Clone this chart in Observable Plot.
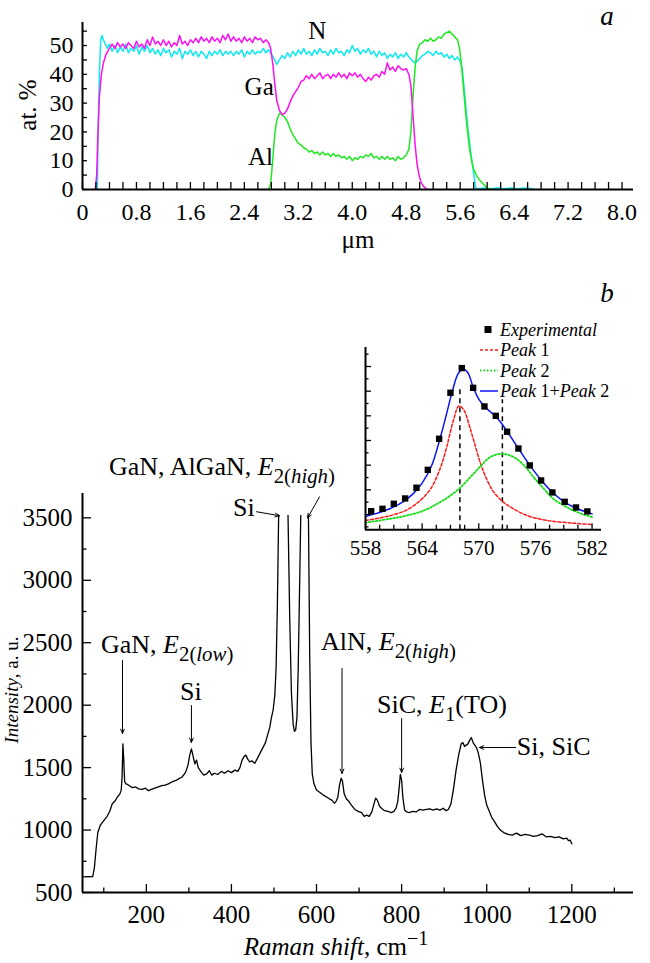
<!DOCTYPE html>
<html><head><meta charset="utf-8">
<script src="https://cdn.jsdelivr.net/npm/d3@7"></script>
<script src="https://cdn.jsdelivr.net/npm/@observablehq/plot@0.6"></script>
<style>
html,body{margin:0;padding:0;background:#fff;}
#root{position:relative;width:650px;height:963px;overflow:hidden;background:#fff;}
#root svg, #root svg text, #root svg tspan{font-family:"Liberation Serif","Tinos","DejaVu Serif","Times New Roman",Times,"Noto Serif",serif !important;}
</style></head><body><div id="root"></div>
<script>
// ---------- Panel a: EDX depth profile (at.% vs µm) ----------
const nX = [0.22,0.23,0.25,0.27,0.29,0.31,0.34,0.37,0.40,0.44,0.48,0.52,0.56,0.60,0.64,0.68,0.72,0.76,0.80,0.84,0.88,0.92,0.96,1.00,1.04,1.08,1.12,1.16,1.20,1.24,1.28,1.32,1.36,1.40,1.44,1.48,1.52,1.56,1.60,1.64,1.68,1.72,1.76,1.80,1.84,1.88,1.92,1.96,2.00,2.04,2.08,2.12,2.16,2.20,2.24,2.28,2.32,2.36,2.40,2.44,2.48,2.52,2.56,2.60,2.64,2.68,2.72,2.76,2.80,2.84,2.88,2.92,2.96,3.00,3.04,3.08,3.12,3.16,3.20,3.24,3.28,3.32,3.36,3.40,3.44,3.48,3.52,3.56,3.60,3.64,3.68,3.72,3.76,3.80,3.84,3.88,3.92,3.96,4.00,4.04,4.08,4.12,4.16,4.20,4.24,4.28,4.32,4.36,4.40,4.44,4.48,4.52,4.56,4.60,4.64,4.68,4.72,4.76,4.80,4.84,4.88,4.92,4.96,5.00,5.04,5.08,5.12,5.16,5.20,5.24,5.28,5.32,5.36,5.40,5.44,5.48,5.52,5.56,5.60,5.63,5.66,5.69,5.72,5.75,5.78,5.81,5.83,5.87,5.95,6.05,6.15,6.25,6.35,6.45,6.55,6.68];
const nY = [0,19,40,52,53.5,52,50.5,49,50.5,48,50,47.5,49.5,48,50.5,47.5,49,48,50,47,49.5,48,50,47.5,49,47,48.5,46.5,49,47.5,48.5,46,48,47,49,45.5,48,47,48.5,46.5,48,46,48,47,45.5,48,46.5,48,47,48.5,46.5,48,47,48,46.5,48,47,48.5,46,48,47,48.5,47,48,47.5,49,47.5,48.5,47,45.5,43.5,45,46.5,45.5,47.5,46,48,46.5,48.5,47,49,47,48,46.5,48.5,47,49,47.5,48,46.5,48.5,47,49,47.5,48,46.5,48.5,47.5,50,48,49,47,48.5,47.5,49,47,48,46,48,46.5,47.5,45.5,47,46,47.5,45.5,47,46,47.5,46,45,44,44.5,45.5,46.5,47,48,47.5,46.5,48,47,47.5,46,47,45.5,46.5,45,46,44.5,42,35,27,20,14,9,4,0.5,0.3,0.5,0.2,0.6,0.3,0.5,0.3,0.5,0.3];

const gaX = [0.19,0.21,0.23,0.25,0.28,0.31,0.35,0.40,0.44,0.48,0.52,0.56,0.60,0.64,0.68,0.72,0.76,0.80,0.84,0.88,0.92,0.96,1.00,1.04,1.08,1.12,1.16,1.20,1.24,1.28,1.32,1.36,1.40,1.44,1.48,1.52,1.56,1.60,1.64,1.68,1.72,1.76,1.80,1.84,1.88,1.92,1.96,2.00,2.04,2.08,2.12,2.16,2.20,2.24,2.28,2.32,2.36,2.40,2.44,2.48,2.52,2.56,2.60,2.64,2.68,2.72,2.76,2.79,2.82,2.85,2.88,2.92,2.96,3.00,3.04,3.08,3.12,3.16,3.20,3.24,3.28,3.32,3.36,3.40,3.44,3.48,3.52,3.56,3.60,3.64,3.68,3.72,3.76,3.80,3.84,3.88,3.92,3.96,4.00,4.04,4.08,4.12,4.16,4.20,4.24,4.28,4.32,4.36,4.40,4.44,4.48,4.52,4.56,4.60,4.64,4.68,4.72,4.76,4.80,4.84,4.87,4.90,4.93,4.96,4.99,5.02,5.06,5.11];
const gaY = [0,5,20,32,40,44,47,49,50.5,49,51,49.5,50.5,49,51,50,49,51.5,49.5,50.5,49,52,50,53,50.5,51.5,50,52,50,51.5,49.5,51,50,53.5,50.5,51.5,50,52,51,52.5,51,53,51.5,52.5,51,53,51.5,52.5,51,53.5,52,54,51.5,53,51.5,52.5,51,53,51.5,52.5,51,53,52,52.5,51,52,51,49,44,37,31,27.5,26,26.5,28,30.5,32.5,34,35.5,37.5,38,39.5,38.5,40,38.5,39.5,40.5,38.5,39.5,40,38.5,40,39,40.5,39,40,38.5,40.5,39.5,40.5,39,40,38.5,37.5,39,38,39.5,40,39,41,40,44,41.5,42.5,41,43,42,41.5,42,40,36,26,16,9,5,2.5,1,0];

const alX = [2.76,2.79,2.82,2.85,2.88,2.92,2.96,3.00,3.04,3.08,3.12,3.16,3.20,3.24,3.28,3.32,3.36,3.40,3.44,3.48,3.52,3.56,3.60,3.64,3.68,3.72,3.76,3.80,3.84,3.88,3.92,3.96,4.00,4.04,4.08,4.12,4.16,4.20,4.24,4.28,4.32,4.36,4.40,4.44,4.48,4.52,4.56,4.60,4.64,4.68,4.72,4.76,4.80,4.84,4.87,4.90,4.93,4.96,5.00,5.04,5.08,5.12,5.16,5.20,5.24,5.28,5.32,5.36,5.40,5.44,5.48,5.52,5.56,5.59,5.62,5.65,5.68,5.71,5.74,5.77,5.80,5.84,5.88,5.92,5.96,6.00,6.05];
const alY = [0,2,10,19,24,26.5,26,25,23.5,21,19,17.5,16,15.5,14.5,14,13,13.5,12.5,13,12,13,12,12.5,11.5,12.5,11.5,12,11,11.5,10.5,11.5,10,11,10.5,11.5,11,12,11.5,12.5,11,11.5,10.5,11.5,10.5,11.5,10.5,11,10,11.5,10.5,11,12,14,20,32,42,48,50.5,51,52,51.5,52.5,51.5,52,53,52.5,54,54.5,55,54,53,52,49,43,35,27,20,14,10,7,5,3.5,2.5,1.5,0.5,0];

const elemNames = ["N", "Ga", "Al"];
const elemLabelX = [3.48, 2.62, 2.64];
const elemLabelY = [55.0, 35.6, 11.2];

const aXLabels = [0, 0.8, 1.6, 2.4, 3.2, 4.0, 4.8, 5.6, 6.4, 7.2, 8.0];
const aXTicks = [0,0.2,0.4,0.6,0.8,1,1.2,1.4,1.6,1.8,2,2.2,2.4,2.6,2.8,3,3.2,3.4,3.6,3.8,4,4.2,4.4,4.6,4.8,5,5.2,5.4,5.6,5.8,6,6.2,6.4,6.6,6.8,7,7.2,7.4,7.6,7.8,8];
const aYLabels = [0, 10, 20, 30, 40, 50];
const aYTicks = [0, 5, 10, 15, 20, 25, 30, 35, 40, 45, 50, 55];

// ---------- Panel b: Raman spectrum ----------
const ramanX = [52,74,78,82,86,92,100,108,114,120,126,132,138,141,143,145,147,149,152,156,162,168,175,182,190,198,205,212,220,228,236,244,252,260,268,276,284,292,298,302,306,310,314,318,322,328,335,342,348,354,360,368,376,384,392,400,408,415,420,425,430,434,438,443,448,455,462,468,474,480,485,490,494,498,502,505,508,511,522,533,537,541,545,548,551,554,557,560,563,572,581,584,587,590,594,600,608,616,624,630,636,642,646,650,654,658,661,665,670,676,682,690,698,706,712,718,724,730,735,739,743,748,754,760,768,776,782,787,791,794,797,800,803,807,812,818,826,834,842,850,858,866,874,882,890,898,904,910,916,922,928,934,940,944,948,952,956,960,964,968,972,976,980,985,990,995,1000,1006,1012,1018,1025,1032,1040,1050,1060,1070,1080,1090,1100,1110,1120,1130,1140,1150,1160,1170,1180,1188,1192,1196,1200];
const ramanI = [625,628,700,850,980,1040,1075,1110,1150,1210,1230,1265,1290,1320,1420,1690,1560,1390,1370,1365,1350,1340,1345,1330,1325,1335,1315,1325,1335,1345,1355,1360,1370,1385,1395,1410,1425,1460,1520,1600,1650,1590,1530,1560,1500,1470,1440,1450,1475,1440,1455,1445,1470,1455,1475,1460,1480,1470,1500,1560,1590,1600,1570,1545,1555,1535,1580,1620,1660,1700,1760,1820,1900,1960,2080,2300,2800,3520,null,3520,2700,2100,1850,1790,1800,1900,2300,2900,3520,null,3520,2400,1700,1450,1370,1320,1300,1280,1265,1250,1240,1215,1230,1260,1360,1415,1390,1290,1250,1230,1200,1165,1150,1140,1110,1120,1110,1145,1210,1255,1240,1190,1170,1155,1150,1140,1150,1175,1230,1330,1445,1400,1260,1160,1145,1140,1150,1145,1165,1160,1165,1170,1160,1170,1160,1175,1155,1165,1210,1330,1480,1600,1690,1700,1670,1680,1690,1720,1740,1700,1680,1660,1620,1540,1400,1280,1200,1150,1100,1070,1030,1000,980,965,960,975,955,965,960,950,955,970,945,950,940,945,930,935,915,920,890];

const bXLabels = [200, 400, 600, 800, 1000, 1200];
const bXTicks = [100, 300, 500, 700, 900, 1100, 1300];
const bYLabels = [500, 1000, 1500, 2000, 2500, 3000, 3500];
const bYTicks = [750, 1250, 1750, 2250, 2750, 3250];

// peak annotations (data coordinates)
const arrowX1 = [144, 306, 660, 800, 1068, 459, 607];
const arrowY1 = [2358, 1997, 2294, 1893, 1661, 3549, 3668];
const arrowX2 = [144, 306, 660, 800, 983, 513, 579];
const arrowY2 = [1773, 1701, 1453, 1461, 1661, 3517, 3500];
const annX = [94.7, 306, 611.7, 743.3, 1072, 113.5, 405];
const annY = [2414, 2037, 2438, 1933, 1597, 3839, 3511];
const annAnchor = ["start", "middle", "start", "start", "start", "start", "start"];
const annParts = [
  [{t:"GaN, "},{t:"E",i:1},{t:"2(",sub:1},{t:"low",sub:1,i:1},{t:")",sub:1}],
  [{t:"Si"}],
  [{t:"AlN, "},{t:"E",i:1},{t:"2(",sub:1},{t:"high",sub:1,i:1},{t:")",sub:1}],
  [{t:"SiC, "},{t:"E",i:1},{t:"1",sub:1},{t:"(TO)"}],
  [{t:"Si, SiC"}],
  [{t:"GaN, AlGaN, "},{t:"E",i:1},{t:"2(",sub:1},{t:"high",sub:1,i:1},{t:")",sub:1}],
  [{t:"Si"}]
];

// ---------- Inset: E2(high) fit ----------
const expX = [558.6,559.8,561.0,562.2,563.4,564.6,565.8,567.0,568.2,569.4,570.6,571.8,573.0,574.2,575.4,576.6,577.8,579.1,580.3,581.5];
const expY = [1.27,1.46,1.87,2.30,3.17,4.62,7.14,10.87,12.87,11.27,9.76,9.00,7.71,6.35,4.98,3.76,2.79,2.03,1.57,1.25];
const peak1X = [558,559.6,561,562.4,563.8,564.9,565.9,566.6,567.3,567.9,568.4,569.0,569.5,570.2,570.9,571.6,572.6,573.7,575.1,577.2,580,582];
const peak1Y = [0.52,0.73,0.99,1.38,2.14,3.08,4.71,6.46,8.6,9.8,9.5,8.2,6.9,5.11,3.76,2.81,2.0,1.46,0.92,0.52,0.30,0.19];
const peak2X = [558,560.6,562.4,564.2,565.9,567,568.1,569.1,570.2,571.2,572.5,573.7,574.8,575.8,576.9,577.9,579,580,581.1,582];
const peak2Y = [0.35,0.65,0.92,1.33,2.0,2.54,3.22,4.03,4.92,5.65,5.92,5.65,4.98,4.03,3.08,2.27,1.73,1.33,1.0,0.79];
const sumX = [558,559,560,561,562,563,564,565,565.8,566.5,567.2,567.8,568.3,568.8,569.4,570,570.6,571.2,571.8,572.4,573,574.2,575.4,576.6,577.8,579,580.2,581.4,582];
const sumY = [0.84,1.05,1.30,1.62,2.05,2.65,3.55,4.95,6.90,8.90,11.0,12.40,12.80,12.55,11.35,10.35,9.75,9.35,8.95,8.40,7.75,6.35,5.0,3.8,2.8,2.05,1.55,1.2,1.05];
const markerX = [568, 572.5];
const markerTop = [11.3, 10.3];
const cXLabels = [558, 564, 570, 576, 582];
const cXTicks = [559.5,561,562.5,565.5,567,568.5,571.5,573,574.5,577.5,579,580.5];
const cYMajor = [1, 3, 5, 7, 9, 11, 13];
const cYMinor = [0, 2, 4, 6, 8, 10, 12, 14];

// ---------- rendering ----------
const serif = "'Liberation Serif', 'Tinos', 'DejaVu Serif', 'Times New Roman', Times, serif";
const root = document.getElementById("root");
function place(el, left, top) {
  el.style.position = "absolute"; el.style.left = left + "px"; el.style.top = top + "px";
  el.style.overflow = "visible";
  root.appendChild(el);
}
function rich(sel, x, y, parts, o = {}) {
  const size = o.size || 26;
  const t = sel.append("text").attr("x", x).attr("y", y)
    .style("font-family", serif).attr("font-size", size).attr("fill", "black")
    .attr("text-anchor", o.anchor || "start");
  if (o.rotate) t.attr("transform", `rotate(${o.rotate},${x},${y})`);
  let cur = 0;
  for (const p of parts) {
    const want = p.sub ? size * 0.3 : p.sup ? -size * 0.42 : 0;
    const ts = t.append("tspan").text(p.t);
    if (want !== cur) { ts.attr("dy", want - cur); cur = want; }
    if (p.sub || p.sup) ts.attr("font-size", size * 0.8);
    if (p.i) ts.attr("font-style", "italic");
  }
  return t;
}
const fmt1 = d => d === 0 ? "0" : d.toFixed(1);
const fmtInt = d => String(d);
const blank = () => "";

// Panel a
const A = Plot.plot({
  width: 650, height: 260,
  marginLeft: 82, marginRight: 17, marginTop: 22, marginBottom: 71,
  x: {domain: [0, 8.17]}, y: {domain: [0, 58]},
  style: {fontFamily: serif, fontSize: "24px", background: "transparent", overflow: "visible"},
  marks: [
    Plot.line(nX, {x: d => d, y: (d, i) => nY[i], stroke: "#10e8f0", strokeWidth: 1.5}),
    Plot.line(alX, {x: d => d, y: (d, i) => alY[i], stroke: "#1fe81f", strokeWidth: 1.5}),
    Plot.line(gaX, {x: d => d, y: (d, i) => gaY[i], stroke: "#ff10f0", strokeWidth: 1.5}),
    Plot.axisX(aXTicks, {tickSize: -7, tickFormat: blank, strokeWidth: 1.3, label: null}),
    Plot.axisX(aXLabels, {tickSize: 0, tickPadding: 13, tickFormat: fmt1, fontSize: 24, label: null}),
    Plot.axisY(aYTicks, {tickSize: -5, tickFormat: blank, strokeWidth: 1.3, label: null}),
    Plot.axisY(aYLabels, {tickSize: 0, tickPadding: 9, tickFormat: fmtInt, fontSize: 24, label: null}),
    Plot.ruleX([0], {strokeWidth: 2}),
    Plot.ruleY([0], {strokeWidth: 2}),
    Plot.text(elemNames, {x: (d, i) => elemLabelX[i], y: (d, i) => elemLabelY[i], text: d => d, fontSize: 25})
  ]
});
place(A, 0, 0);
{
  const s = d3.select(A);
  rich(s, 358, 248, [{t: "μm"}], {size: 25, anchor: "middle"});
  rich(s, 36, 105, [{t: "at. %"}], {size: 25, anchor: "middle", rotate: -90});
}

// Panel b
const B = Plot.plot({
  width: 650, height: 523,
  marginLeft: 82, marginRight: 17, marginTop: 53, marginBottom: 71,
  x: {domain: [50, 1345]}, y: {domain: [500, 3695]},
  style: {fontFamily: serif, fontSize: "25px", background: "transparent", overflow: "visible"},
  marks: [
    Plot.line(ramanX, {x: d => d, y: (d, i) => ramanI[i], stroke: "black", strokeWidth: 1.3}),
    Plot.arrow(arrowX1, {x1: d => d, y1: (d, i) => arrowY1[i], x2: (d, i) => arrowX2[i], y2: (d, i) => arrowY2[i],
      stroke: "black", strokeWidth: 1, headLength: 7, headAngle: 45}),
    Plot.axisX(bXLabels, {tickSize: -8, tickPadding: 21, tickFormat: fmtInt, fontSize: 25, strokeWidth: 1.3, label: null}),
    Plot.axisX(bXTicks, {tickSize: -4.5, tickFormat: blank, strokeWidth: 1.3, label: null}),
    Plot.axisY(bYLabels, {tickSize: -9, tickPadding: 19, tickFormat: fmtInt, fontSize: 25, strokeWidth: 1.3, label: null}),
    Plot.axisY(bYTicks, {tickSize: -4.5, tickFormat: blank, strokeWidth: 1.3, label: null}),
    Plot.ruleX([50], {strokeWidth: 2}),
    Plot.ruleY([500], {strokeWidth: 2})
  ]
});
place(B, 0, 440);
{
  const s = d3.select(B);
  const sx = B.scale("x"), sy = B.scale("y");
  annParts.forEach((parts, i) => {
    rich(s, sx.apply(annX[i]), sy.apply(annY[i]), parts, {size: 26, anchor: annAnchor[i]});
  });
  rich(s, 336, 515, [{t: "Raman shift", i: 1}, {t: ", cm"}, {t: "−1", sup: 1}], {size: 25, anchor: "middle"});
  rich(s, 18, 250, [{t: "Intensity", i: 1}, {t: ", a. u."}], {size: 19, anchor: "middle", rotate: -90});
}

// Inset
const C = Plot.plot({
  width: 310, height: 260,
  marginLeft: 65, marginRight: 9, marginTop: 27, marginBottom: 50.7,
  x: {domain: [558, 583]}, y: {domain: [-0.24, 14.54]},
  style: {fontFamily: serif, fontSize: "21px", background: "transparent", overflow: "visible"},
  marks: [
    Plot.ruleX(markerX, {x: d => d, y1: -0.24, y2: (d, i) => markerTop[i], stroke: "black", strokeWidth: 1.5, strokeDasharray: "5,4"}),
    Plot.line(peak1X, {x: d => d, y: (d, i) => peak1Y[i], stroke: "#ff1a1a", strokeWidth: 1.5, strokeDasharray: "3,2", curve: "catmull-rom"}),
    Plot.line(peak2X, {x: d => d, y: (d, i) => peak2Y[i], stroke: "#10dd10", strokeWidth: 1.8, strokeDasharray: "1.5,2", curve: "catmull-rom"}),
    Plot.line(sumX, {x: d => d, y: (d, i) => sumY[i], stroke: "#0a14f0", strokeWidth: 1.5, curve: "catmull-rom"}),
    Plot.dot(expX, {x: d => d, y: (d, i) => expY[i], symbol: "square", fill: "black", r: 3.6}),
    Plot.axisX(cXLabels, {tickSize: -6, tickPadding: 16, tickFormat: fmtInt, fontSize: 21, strokeWidth: 1.3, label: null}),
    Plot.axisX(cXTicks, {tickSize: -4.5, tickFormat: blank, strokeWidth: 1.3, label: null}),
    Plot.axisY(cYMajor, {tickSize: -6, tickFormat: blank, strokeWidth: 1.3, label: null}),
    Plot.axisY(cYMinor, {tickSize: -3.5, tickFormat: blank, strokeWidth: 1.3, label: null}),
    Plot.ruleX([558], {strokeWidth: 2}),
    Plot.ruleY([-0.24], {strokeWidth: 2})
  ]
});
place(C, 300, 320);
{
  const s = d3.select(C);
  // legend (baselines 20.5 px apart)
  const lx = 200, b0 = 15.5, step = 20.5;
  s.append("rect").attr("x", 184.5).attr("y", b0 - 9.5).attr("width", 7).attr("height", 7).attr("fill", "black");
  s.append("line").attr("x1", 180).attr("x2", 198).attr("y1", b0 + step - 6).attr("y2", b0 + step - 6).attr("stroke", "#ff1a1a").attr("stroke-width", 1.5).attr("stroke-dasharray", "3,2");
  s.append("line").attr("x1", 180).attr("x2", 198).attr("y1", b0 + 2 * step - 6).attr("y2", b0 + 2 * step - 6).attr("stroke", "#10dd10").attr("stroke-width", 1.8).attr("stroke-dasharray", "1.5,2");
  s.append("line").attr("x1", 180).attr("x2", 198).attr("y1", b0 + 3 * step - 6).attr("y2", b0 + 3 * step - 6).attr("stroke", "#0a14f0").attr("stroke-width", 1.5);
  rich(s, lx, b0, [{t: "Experimental", i: 1}], {size: 18});
  rich(s, lx, b0 + step, [{t: "Peak", i: 1}, {t: " 1"}], {size: 18});
  rich(s, lx, b0 + 2 * step, [{t: "Peak", i: 1}, {t: " 2"}], {size: 18});
  rich(s, lx, b0 + 3 * step, [{t: "Peak", i: 1}, {t: " 1+"}, {t: "Peak", i: 1}, {t: " 2"}], {size: 18});
}

// panel letters
const L = d3.create("svg").attr("width", 650).attr("height", 963);
rich(L, 607, 25, [{t: "a", i: 1}], {size: 27, anchor: "middle"});
rich(L, 607, 302, [{t: "b", i: 1}], {size: 27, anchor: "middle"});
place(L.node(), 0, 0);
L.node().style.pointerEvents = "none";
</script>
</body></html>
